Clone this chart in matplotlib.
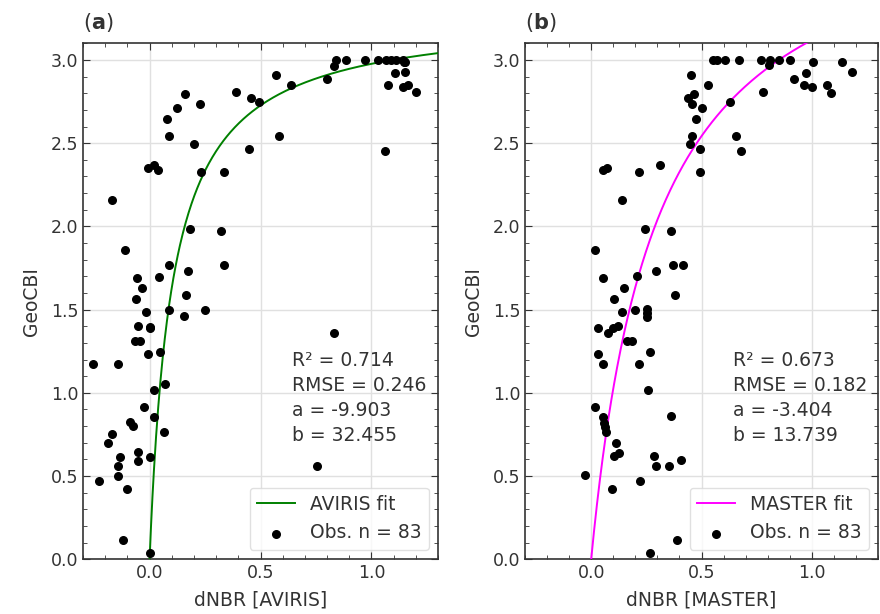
import matplotlib
matplotlib.use('Agg')
import matplotlib.pyplot as plt
import numpy as np

# GeoCBI plots vs dNBR from the two sensors
aviris_dnbr = [-0.170, -0.008, 0.018, 0.037, 0.080, 0.087, 0.122, 0.158, 0.201, 0.227,
               0.234, 0.335, 0.389, 0.447, 0.456, 0.492, 0.568, 0.584, 0.636, 0.800,
               0.833, 0.842, 0.884, 0.972, 1.029, 1.066, 1.088, 1.111, 1.141, 1.151,
               1.146, 1.108, 1.151, 1.074, 1.141, 1.167, 1.201, 1.059,
               0.183, 0.320, -0.110, 0.087, 0.335, -0.057, 0.044, 0.173, -0.032, 0.164,
               -0.059, -0.015, 0.087, 0.249, 0.156, -0.050, 0.000, 0.002, -0.066, -0.042,
               -0.008, 0.045, -0.257, -0.143, 0.833, 0.071, 0.019,
               -0.024, 0.019, -0.086, -0.075, 0.063, -0.171, -0.187, -0.135, 0.001, -0.050,
               -0.050, -0.144, -0.144, -0.230, -0.101, -0.119, 0.000, 0.755]
aviris_cbi = [2.156, 2.349, 2.371, 2.339, 2.647, 2.543, 2.714, 2.794, 2.497, 2.738,
              2.327, 2.327, 2.806, 2.463, 2.772, 2.746, 2.910, 2.543, 2.852, 2.886,
              2.966, 3.000, 3.000, 3.000, 3.000, 3.000, 3.000, 3.000, 3.000, 2.986,
              2.990, 2.920, 2.926, 2.850, 2.840, 2.850, 2.806, 2.455,
              1.986, 1.972, 1.858, 1.768, 1.768, 1.689, 1.698, 1.734, 1.631, 1.585,
              1.563, 1.483, 1.495, 1.495, 1.459, 1.403, 1.393, 1.390, 1.313, 1.313,
              1.234, 1.243, 1.175, 1.175, 1.357, 1.052, 1.016,
              0.914, 0.856, 0.824, 0.800, 0.766, 0.754, 0.696, 0.617, 0.617, 0.643,
              0.593, 0.559, 0.503, 0.469, 0.425, 0.116, 0.036, 0.560]

master_dnbr = [0.552, 0.568, 0.605, 0.671, 0.769, 0.811, 0.853, 0.899, 0.804, 0.451,
               0.528, 0.437, 0.467, 0.457, 0.500, 0.475, 0.629, 0.777, 0.457, 0.448,
               0.491, 0.657, 0.681, 0.491, 0.311, 0.217, 0.053, 0.071, 0.140, 0.921,
               0.974, 0.964, 1.000, 1.007, 1.068, 1.086, 1.136, 1.182,
               0.243, 0.363, 0.019, 0.372, 0.416, 0.294, 0.053, 0.208, 0.148, 0.381,
               0.105, 0.139, 0.200, 0.252, 0.252, 0.252, 0.029, 0.078, 0.098, 0.122,
               0.161, 0.185, 0.029, 0.053, 0.267, 0.215, 0.259,
               0.019, 0.053, 0.059, 0.062, 0.068, 0.363, 0.113, 0.105, 0.125, 0.285,
               0.294, 0.351, 0.407, -0.027, 0.223, 0.093, 0.387, 0.265]
master_cbi = [3.000, 3.000, 3.000, 3.000, 3.000, 3.000, 3.000, 3.000, 2.970, 2.910,
              2.852, 2.774, 2.796, 2.738, 2.714, 2.647, 2.746, 2.806, 2.543, 2.497,
              2.463, 2.543, 2.453, 2.327, 2.371, 2.327, 2.339, 2.351, 2.156, 2.886,
              2.920, 2.852, 2.840, 2.986, 2.852, 2.804, 2.986, 2.930,
              1.986, 1.972, 1.860, 1.768, 1.768, 1.734, 1.689, 1.701, 1.631, 1.585,
              1.564, 1.483, 1.497, 1.501, 1.479, 1.457, 1.391, 1.359, 1.391, 1.403,
              1.313, 1.313, 1.234, 1.175, 1.243, 1.175, 1.018,
              0.914, 0.854, 0.820, 0.794, 0.764, 0.858, 0.696, 0.619, 0.638, 0.619,
              0.561, 0.561, 0.595, 0.505, 0.469, 0.421, 0.116, 0.036]

# fit parameters and stats shown in the panels
fit_a = [-9.903, -3.404]
fit_b = [32.455, 13.739]
r2 = [0.714, 0.673]
rmse = [0.246, 0.182]
sensors = ['AVIRIS', 'MASTER']
panel_tags = ['a', 'b']
fit_colors = ['green', 'magenta']

plt.rcParams['font.size'] = 13.5
plt.rcParams['text.color'] = '0.2'
plt.rcParams['axes.labelcolor'] = '0.2'
plt.rcParams['xtick.color'] = '0.2'
plt.rcParams['ytick.color'] = '0.2'

fig = plt.figure(figsize=(8.8, 6.14), dpi=100)
ax1 = fig.add_axes([83/880, 1 - 559.3/614, 355/880, 516/614])
ax2 = fig.add_axes([525/880, 1 - 559.3/614, 353/880, 516/614])

# fit curve drawn from dNBR = 0 up to the right edge
xs = np.linspace(0, 1.3, 400)
data = [(aviris_dnbr, aviris_cbi), (master_dnbr, master_cbi)]

for i, ax in enumerate([ax1, ax2]):
    dnbr, cbi = data[i]
    fit = fit_b[i]*xs/(1 - fit_a[i]*xs)
    ax.plot(xs, fit, color=fit_colors[i], lw=1.4, label=sensors[i] + ' fit', zorder=3)
    ax.scatter(dnbr, cbi, s=30, color='black', label='Obs. n = %d' % len(cbi), zorder=4)

    ax.set_xlim(-0.3, 1.3)
    ax.set_ylim(0, 3.1)
    ax.set_xticks([0.0, 0.5, 1.0])
    ax.set_yticks(np.arange(0, 3.01, 0.5))
    ax.set_xticks(np.arange(-0.3, 1.31, 0.1), minor=True)
    ax.set_yticks(np.arange(0, 3.11, 0.1), minor=True)
    ax.tick_params(which='both', direction='in', top=True, right=True, labelsize=12.5)
    ax.tick_params(which='major', length=5)
    ax.tick_params(which='minor', length=3)
    ax.grid(True, color='0.88', lw=1)
    ax.set_axisbelow(True)
    for sp in ax.spines.values():
        sp.set_color('0.2')
        sp.set_linewidth(1.2)

    ax.set_xlabel('dNBR [%s]' % sensors[i], labelpad=6)
    ax.set_ylabel('GeoCBI', labelpad=7)
    ax.set_title(r'($\bf{%s}$)' % panel_tags[i], loc='left', pad=10, fontsize=15)

    stats = 'R\u00b2 = %.3f\nRMSE = %.3f\na = %.3f\nb = %.3f' % (r2[i], rmse[i], fit_a[i], fit_b[i])
    ax.text(0.59, 0.222, stats, transform=ax.transAxes, ha='left', va='bottom', linespacing=1.4)

    ax.legend(loc='lower right', fontsize=13.5, edgecolor='0.85')

fig.savefig('out.png', dpi=100)
